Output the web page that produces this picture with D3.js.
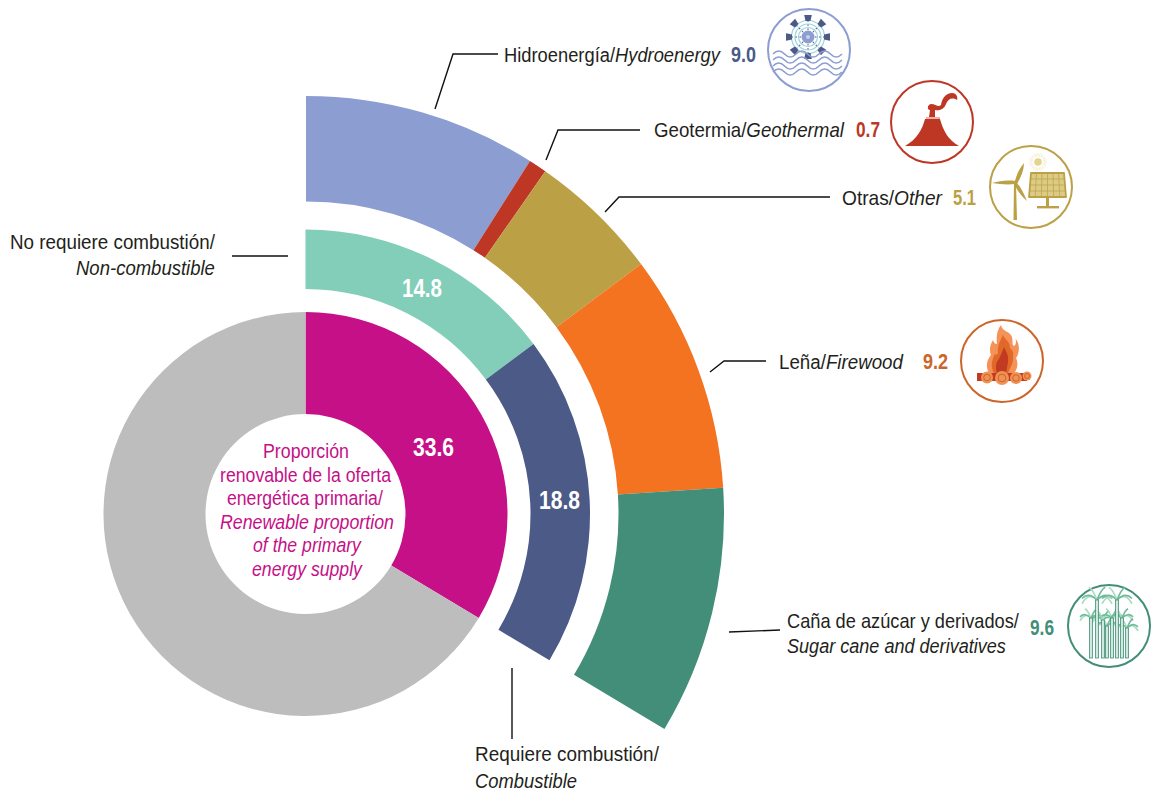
<!DOCTYPE html>
<html><head><meta charset="utf-8">
<script src="https://cdn.jsdelivr.net/npm/d3@7"></script>
<style>
html,body{margin:0;padding:0;background:#fff}
svg{display:block}
text{font-family:"Liberation Sans",sans-serif;font-size:20px;fill:#231f20}
.it{font-style:italic}
.v{font-weight:700;font-size:22px}
</style></head><body>
<svg id="c" width="1151" height="791"></svg>
<script>
const innerValues=[33.6,66.4];
const innerColors=["#c51087","#bdbdbd"];
const midValues=[14.8,18.8];
const midColors=["#82ceb9","#4b5a86"];
const outerValues=[9.0,0.7,5.1,9.2,9.6];
const outerColors=["#8c9dd1","#be3725","#bba045","#f47321","#438e79"];
const outerIconColors=["#8c9dd1","#be3725","#bba045","#cc6529","#438e79"];
const outerValueColors=["#4b5a86","#be3725","#bba045","#cc6529","#438e79"];
const centerTitle=[["Proporción",0],["renovable de la oferta",0],["energética primaria/",0],["Renewable proportion",1],["of the primary",1],["energy supply",1]];
const outerLabels=[
 [["Hidroenergía/",0],["Hydroenergy",1]],
 [["Geotermia/",0],["Geothermal",1]],
 [["Otras/",0],["Other",1]],
 [["Leña/",0],["Firewood",1]],
 [["Caña de azúcar y derivados/",0]],
 [["Sugar cane and derivatives",1]],
 [["No requiere combustión/",0]],
 [["Non-combustible",1]],
 [["Requiere combustión/",0]],
 [["Combustible",1]]];

// layout (x0, x1, baseline)
const labelBoxes=[[504,720,62],[654,844,137],[842,942,205],[779,903,369],[787,1019,628],[787,1006,653],[10,215,249],[76,215,275],[475,659,761],[475,577,788]];
const centerBoxes=[[263,349],[220,391],[227,383],[220,394],[253,361],[252,362]];
const valueBoxes=[[731,756,62],[856,880,137],[953,976,205],[923,948,369],[1030,1054,635]];
const ringValueBoxes=[[413,454,456],[402,442,297],[539,580,509]];

const svg=d3.select("#c");
const cy=514;
const angle=d3.scaleLinear().domain([0,100]).range([0,2*Math.PI]);
function ring(vals,colors,r0,r1,cx){
  const g=svg.append("g").attr("transform",`translate(${cx},${cy})`);
  const arc=d3.arc().innerRadius(r0).outerRadius(r1);
  let acc=0;
  const ds=vals.map((v,i)=>{const d={startAngle:angle(acc),endAngle:angle(acc+v),color:colors[i]};acc+=v;return d;});
  g.selectAll("path").data(ds).join("path").attr("d",arc).attr("fill",d=>d.color);
}
ring(innerValues,innerColors,100,202,305.5);
ring(midValues,midColors,225,284.5,305.5);
ring(outerValues,outerColors,312.5,418,306);

// horizontally fitted text, to mimic the condensed face of the reference
function fit(x0,x1,y,parts,opts){
  opts=opts||{};
  const t=svg.append("text").attr("class",opts.cls||null);
  if(opts.fill)t.style("fill",opts.fill);
  if(opts.size)t.style("font-size",opts.size+"px");
  parts.forEach(p=>t.append("tspan").attr("class",p[1]?"it":null).text(p[0]));
  const w=t.node().getComputedTextLength();
  t.attr("transform",`translate(${x0},${y}) scale(${(x1-x0)/w},1)`);
  return t;
}
outerLabels.forEach((p,i)=>fit(labelBoxes[i][0],labelBoxes[i][1],labelBoxes[i][2],p));
centerTitle.forEach((d,i)=>fit(centerBoxes[i][0],centerBoxes[i][1],458+i*23.6,[d],{fill:"#c51087",size:19.5}));
outerValues.forEach((v,i)=>fit(valueBoxes[i][0],valueBoxes[i][1],valueBoxes[i][2],[[v.toFixed(1),0]],{cls:"v",fill:outerValueColors[i]}));
[innerValues[0],midValues[0],midValues[1]].forEach((v,i)=>fit(ringValueBoxes[i][0],ringValueBoxes[i][1],ringValueBoxes[i][2],[[v.toFixed(1),0]],{cls:"v",fill:"#fff",size:25}));

// Leader lines
const leaders=[
 [[435,109],[453,54],[498,54]],
 [[546,160],[558,130],[640,130]],
 [[605,212],[619,197],[830,197]],
 [[710,372],[724,361],[766,361]],
 [[729,632],[780,630]],
 [[232,256],[288,256]],
 [[512,668],[512,739]]];
svg.append("g").selectAll("path").data(leaders).join("path")
 .attr("d",d3.line()).attr("fill","none").attr("stroke","#111").attr("stroke-width",1.4);

// Icons
const icons=[[809,50],[932,122],[1031,187],[1002,361],[1109,626]];
const ig=svg.append("g").selectAll("g").data(icons).join("g").attr("transform",d=>`translate(${d[0]},${d[1]})`);
ig.append("circle").attr("r",41).attr("fill","#fff").attr("stroke",(d,i)=>outerIconColors[i]).attr("stroke-width",2);

// hydro
const h=d3.select(ig.nodes()[0]);
const hub=h.append("g").attr("transform","translate(-1,-13)");
[9.5,13,16.5].forEach(r=>hub.append("circle").attr("r",r).attr("fill","none").attr("stroke","#9fd3dc").attr("stroke-width",1.2));
d3.range(8).forEach(i=>{
  hub.append("g").attr("transform",`rotate(${i*45})`).call(g=>{
    g.append("line").attr("y1",-7).attr("y2",-17).attr("stroke","#4b5a86").attr("stroke-width",1).attr("stroke-dasharray","1.5 2.5");
    g.append("path").attr("d","M-2.5,-16 L2.5,-16 L3.8,-22 L-3.8,-22 Z").attr("fill","#4b5a86");
  });
});
hub.append("circle").attr("r",6.5).attr("fill","#8c9dd1");
hub.append("circle").attr("r",2).attr("fill","#c8d0ea");
[4,10,16,22].forEach(y=>{
  h.append("path").attr("d",`M-36,${y} q5.8,-6 11.5,0 t11.5,0 t11.5,0 t11.5,0 t11.5,0 t11.5,0`).attr("fill","none").attr("stroke","#8c9dd1").attr("stroke-width",1.5);
});
// volcano
const v=d3.select(ig.nodes()[1]);
v.append("path").attr("fill","#be3725").attr("d","M-27,24 C-15,17 -10,8 -7,-3 L8,-3 C11,8 16,18 27,24 Z");
v.append("rect").attr("x",-6).attr("y",-5).attr("width",14).attr("height",2).attr("fill","#e8b3a6");
v.append("path").attr("fill","#be3725").attr("d","M-3,-5 L-2,-12 C-5,-12 -5,-17 -1,-18 C4,-18 6,-14 9,-17 C10,-24 14,-29 20,-29 C25,-29 26,-24 25,-22 C20,-25 16,-23 14,-18 C12,-12 6,-11 3,-12 L3,-5 Z");
// wind + solar
const o=d3.select(ig.nodes()[2]);
o.append("path").attr("fill","#bba045").attr("d","M-17,-4 L-15,-4 L-14,33 L-17.5,33 Z");
o.append("path").attr("fill","#bba045").attr("d","M-16,-6 C-14,-14 -11,-19 -7,-24 C-7,-17 -10,-10 -14,-3 Z");
o.append("path").attr("fill","#bba045").attr("d","M-16,-6 C-24,-7 -32,-6 -39,-4 C-32,-3 -24,-2 -16,-3 Z");
o.append("path").attr("fill","#bba045").attr("d","M-15,-5 C-10,0 -7,7 -4,14 C-9,10 -14,3 -17,-3 Z");
o.append("circle").attr("cx",-15.5).attr("cy",-4.5).attr("r",2).attr("fill","#bba045");
o.append("path").attr("fill","#dccb84").attr("stroke","#bba045").attr("stroke-width",1.8).attr("stroke-linejoin","round")
 .attr("d","M0,-14 L33,-14 L35,10 L-2,10 Z");
d3.range(1,6).forEach(i=>o.append("line").attr("x1",i*5.5).attr("x2",-2+i*6.17).attr("y1",-14).attr("y2",10).attr("stroke","#bba045").attr("stroke-width",.7));
[-8,-2,4].forEach(y=>o.append("line").attr("x1",-1).attr("x2",34).attr("y1",y).attr("y2",y).attr("stroke","#bba045").attr("stroke-width",.7));
o.append("rect").attr("x",15).attr("y",10).attr("width",3).attr("height",11).attr("fill","#bba045");
o.append("rect").attr("x",6).attr("y",19).attr("width",22).attr("height",2.4).attr("fill","#bba045");
o.append("circle").attr("cx",7).attr("cy",-25).attr("r",3.8).attr("fill","#e2d592");
d3.range(24).forEach(i=>o.append("line").attr("transform",`translate(7,-25) rotate(${i*15})`).attr("y1",-5.5).attr("y2",-9).attr("stroke","#efe6bd").attr("stroke-width",.7));
// fire
const f=d3.select(ig.nodes()[3]);
f.append("path").attr("fill","#f59258").attr("d","M-1,-36 C0,-30 6,-30 9,-26 C12,-21 9,-17 12,-15 C15,-17 14,-22 13,-23 C19,-16 17,-7 14,-3 C17,3 15,10 10,15 L-11,15 C-17,8 -16,0 -11,-6 C-13,-11 -12,-16 -9,-21 C-8,-18 -7,-17 -5,-17 C-6,-24 -5,-31 -1,-36 Z");
f.append("path").attr("fill","#e0692a").attr("d","M1,-26 C3,-21 8,-20 8,-13 C10,-11 12,-9 11,-5 C12,0 9,6 6,12 L-8,12 C-12,6 -10,-2 -7,-7 C-6,-6 -5,-6 -4,-8 C-5,-14 -2,-20 1,-26 Z");
f.append("path").attr("fill","#c23a20").attr("d","M2,-14 C4,-9 7,-6 6,1 L4,12 L-5,12 C-7,6 -6,1 -3,-2 C-2,-4 0,-9 2,-14 Z");
f.append("rect").attr("x",-25).attr("y",12).attr("width",50).attr("height",8).attr("fill","#c23a20");
[[-15,16.5,6],[0,17,7],[14,17,6],[25,15,4.5]].forEach(c=>{
 f.append("circle").attr("cx",c[0]).attr("cy",c[1]).attr("r",c[2]).attr("fill","#ee9353");
 f.append("circle").attr("cx",c[0]).attr("cy",c[1]).attr("r",c[2]*.55).attr("fill","none").attr("stroke","#c9552a").attr("stroke-width",.8);
});
// cane
const s=d3.select(ig.nodes()[4]);
const stalks=[[-12,-26],[8,-26],[-18,-8],[-6,-6],[3,-8],[13,-8],[-2,0],[18,2]];
stalks.forEach(p=>{
 const L=p[1]<-15?15:11;
 [[-1,.25,"#a8dcbf"],[1,.25,"#a8dcbf"],[-1,-.1,"#6fbb9c"],[1,-.1,"#6fbb9c"],[-.55,-.85,"#a8dcbf"],[.55,-.85,"#6fbb9c"]].forEach(l=>{
   const ex=p[0]+l[0]*L,ey=p[1]+l[1]*L;
   s.append("path").attr("d",`M${p[0]},${p[1]} Q${p[0]+l[0]*L*.55},${p[1]-L*.55+(l[1]<-.5?-.2*L:0)} ${ex},${ey}`)
    .attr("fill","none").attr("stroke",l[2]).attr("stroke-width",1.6);
 });
});
stalks.forEach(p=>{
 s.append("rect").attr("x",p[0]-1.5).attr("y",p[1]).attr("width",3).attr("height",32-p[1]).attr("fill","#cfe9dd").attr("stroke","#438e79").attr("stroke-width",.8);
});
</script></body></html>
